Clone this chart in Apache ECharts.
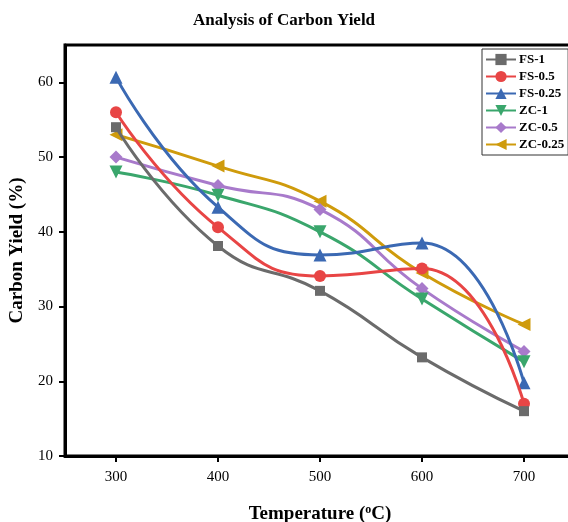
<!DOCTYPE html>
<html>
<head>
<meta charset="utf-8">
<script src="https://cdn.jsdelivr.net/npm/echarts@6/dist/echarts.min.js"></script>
<style>
html, body { margin: 0; padding: 0; background: #fff; }
#chart { width: 568px; height: 522px; }
</style>
</head>
<body>
<div id="chart"></div>
<script>
// data
var temps = [300, 400, 500, 600, 700];
var fs1 = [54, 38.1, 32.1, 23.2, 16.0];
var fs05 = [56.0, 40.6, 34.1, 35.1, 17.0];
var fs025 = [60.7, 43.3, 36.9, 38.5, 19.8];
var zc1 = [48.0, 44.9, 40.0, 31.0, 22.6];
var zc05 = [50.0, 46.2, 43.0, 32.4, 24.0];
var zc025 = [53.0, 48.8, 44.1, 34.5, 27.6];

var names = ['FS-1', 'FS-0.5', 'FS-0.25', 'ZC-1', 'ZC-0.5', 'ZC-0.25'];
var colors = ['#6b6b6b', '#e84545', '#3b69b3', '#3aa66c', '#a87acb', '#cf9b0c'];
var symbols = ['rect', 'circle', 'triangle', 'triangle', 'diamond', 'triangle'];
var rotates = [0, 0, 0, 180, 0, 90];
var sizes = [10, 12, 13, 13, 13, 13];
var values = [fs1, fs05, fs025, zc1, zc05, zc025];

var serif = '"Liberation Serif", "Times New Roman", serif';

var chart = echarts.init(document.getElementById('chart'));

function pairs(arr) {
	var out = [];
	for (var i = 0; i < temps.length; i++) {
		out.push([temps[i], arr[i]]);
	}
	return out;
}

var series = [];
for (var i = 0; i < names.length; i++) {
	series.push({
		name: names[i],
		type: 'line',
		smooth: 0.5,
		symbol: symbols[i],
		symbolSize: sizes[i],
		symbolRotate: rotates[i],
		showAllSymbol: true,
		lineStyle: { color: colors[i], width: 3 },
		itemStyle: { color: colors[i] },
		data: pairs(values[i]),
		z: 10 - i
	});
}

var option = {
	animation: false,
	title: {
		text: 'Analysis of Carbon Yield',
		left: 'center',
		top: 7,
		textStyle: { fontFamily: serif, fontWeight: 'bold', fontSize: 17, color: '#000' }
	},
	grid: {
		left: 65, top: 45, right: -7, bottom: 66,
		show: true, borderColor: '#000', borderWidth: 3,
		containLabel: false,
		outerBoundsMode: 'none'
	},
	legend: {
		orient: 'vertical',
		left: 482, top: 49,
		itemGap: 4,
		itemWidth: 30,
		itemHeight: 14,
		padding: [4, 4, 4, 3],
		borderColor: '#333',
		borderWidth: 1,
		textStyle: { fontFamily: serif, fontWeight: 'bold', fontSize: 13, color: '#000', padding: [0, 0, 0, -2] },
		data: names
	},
	xAxis: {
		type: 'value',
		min: 250, max: 750,
		name: '{t|Temperature (}{s|o}{t|C)}',
		nameLocation: 'middle',
		nameGap: 48,
		nameTextStyle: {
			rich: {
				t: { fontFamily: serif, fontWeight: 'bold', fontSize: 19, color: '#000' },
				s: { fontFamily: serif, fontWeight: 'bold', fontSize: 12, color: '#000', verticalAlign: 'top', padding: [0, 0, 8, 0] }
			}
		},
		axisLine: { lineStyle: { color: '#000', width: 3 } },
		axisTick: { inside: false, length: 6, customValues: temps, lineStyle: { color: '#000', width: 2 } },
		axisLabel: {
			fontFamily: serif, fontSize: 15, color: '#000', margin: 14,
			customValues: temps
		},
		splitLine: { show: false }
	},
	yAxis: {
		type: 'value',
		min: 10, max: 65,
		interval: 10,
		name: 'Carbon Yield (%)',
		nameLocation: 'middle',
		nameGap: 38,
		nameTextStyle: { fontFamily: serif, fontWeight: 'bold', fontSize: 19, color: '#000' },
		axisLine: { lineStyle: { color: '#000', width: 3 } },
		axisTick: { inside: false, length: 6, lineStyle: { color: '#000', width: 2 } },
		axisLabel: {
			fontFamily: serif, fontSize: 15, color: '#000', margin: 12,
			showMaxLabel: false
		},
		splitLine: { show: false }
	},
	series: series
};

chart.setOption(option);
</script>
</body>
</html>
